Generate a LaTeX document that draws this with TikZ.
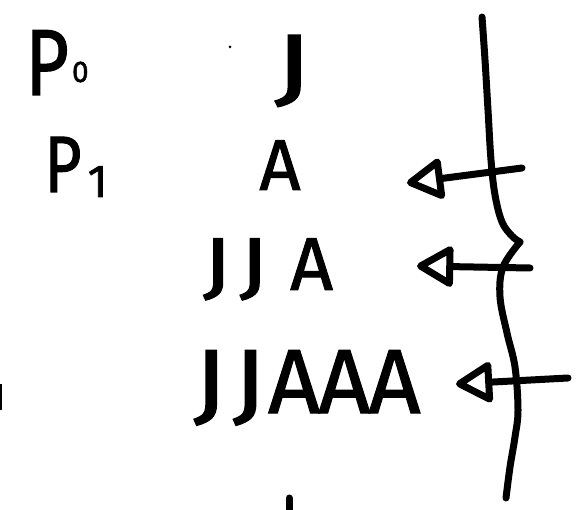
\documentclass[tikz,border=0pt]{standalone}
\usepackage{fontspec}
\setmainfont{Fira Sans}
\newfontfamily\handfont{Fira Sans}[FakeBold=1.3]
\usetikzlibrary{arrows.meta}
\newcommand{\fs}[1]{\fontsize{#1}{#1}\selectfont}
\begin{document}
\begin{tikzpicture}[x=1pt,y=-1pt,
  ink/.style={line width=7pt,line cap=round,line join=round},
  hand/.style={inner sep=0pt,anchor=base,font=\handfont},
  pointer/.style={ink,-{Triangle[open,length=40pt,width=44pt,round]}}]
\useasboundingbox (0,0) rectangle (583,510);
% texts
\node[hand] (p0) at (57,95) {\fs{94}\scalebox{0.8}[1]{P}\kern3pt\raisebox{13pt}{\fs{30}0}};
\node[hand] (p1) at (76,192) {\fs{80}\scalebox{0.8}[1]{P}\kern6pt\raisebox{-5pt}{\fs{46}1}};
\node[hand] (t0) at (293,95) {\fs{87}\scalebox{1.4}[1]{J}};
\node[hand] (t1) at (280,190) {\fs{72}A};
\node[hand] (t2) at (268,290) {\fs{75}\scalebox{1.25}[1]{J}\kern8pt\scalebox{1.25}[1]{J}\kern22pt A};
\node[hand] (t3) at (307,413) {\fs{91}\scalebox{1.2}[1]{J}\kern6pt\scalebox{1.2}[1]{J}\kern2pt A\kern-2pt A\kern-2pt A};
% stray marks
\fill (230,47) circle (1.5pt);
\draw[line width=4pt] (0,384) -- (0,410);
\draw[ink] (289,498) -- (289,515);
% vertical stroke with notch
\coordinate (vtop) at (482,17);
\coordinate (notch) at (520,242);
\coordinate (vbot) at (506,498);
\draw[ink] plot[smooth,tension=0.6] coordinates {(482,17) (485,60) (488,110) (491,160) (495,195) (502,222) (512,236) (520,242)};
\draw[ink] plot[smooth,tension=0.6] coordinates {(520,242) (503,267) (500,297) (507,333) (515,367) (518,410) (515,437) (510,467) (506,498)};
% arrows
\coordinate (a1s) at (522,168);
\coordinate (a1e) at (407,183);
\coordinate (a2s) at (530,268);
\coordinate (a2e) at (417,266);
\coordinate (a3s) at (568,378);
\coordinate (a3e) at (456,384);
\draw[pointer] (a1s) -- (a1e);
\draw[pointer] (a2s) -- (a2e);
\draw[pointer] (a3s) -- (a3e);
\end{tikzpicture}
\end{document}
